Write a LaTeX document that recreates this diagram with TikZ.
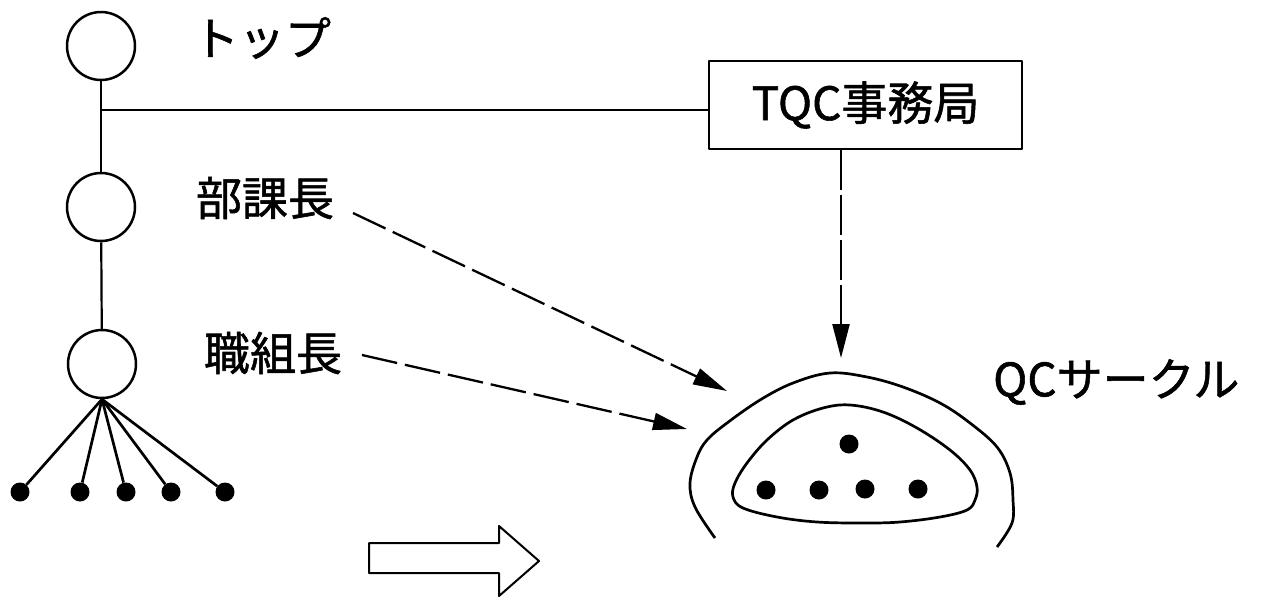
\documentclass[tikz,border=0pt]{standalone}
\usepackage{fontspec}
\newfontfamily\jpfont[BoldFont={Noto Sans CJK JP},BoldFeatures={FakeBold=1.2}]{Noto Sans CJK JP}
\usetikzlibrary{arrows.meta}
\begin{document}
\begin{tikzpicture}[x=1pt,y=-1pt,
  line join=round,
  rank/.style={circle,draw,line width=2.5pt,minimum size=68pt,inner sep=0pt},
  member/.style={circle,fill,minimum size=19pt,inner sep=0pt},
  label/.style={font=\jpfont\bfseries\fontsize{46}{50}\selectfont,inner sep=0pt},
  solidline/.style={line width=2.2pt},
  flow/.style={line width=2.3pt,dash pattern=on 36pt off 8pt,
    -{Triangle[length=34pt,width=17pt]}},
  loop/.style={line width=2.7pt}]
\useasboundingbox (0,0) rectangle (1265,598);

% hierarchy of ranks
\node[rank] (top) at (101,46) {};
\node[rank] (mid) at (101,207) {};
\node[rank] (low) at (102,364) {};
\draw[solidline] (top) -- (mid);
\draw[solidline] (mid) -- (low);

% workers under the foreman
\node[member] (w1) at (20,492) {};
\node[member] (w2) at (80,492) {};
\node[member] (w3) at (126,492) {};
\node[member] (w4) at (171,492) {};
\node[member] (w5) at (225,492) {};
\foreach \w in {w1,w2,w3,w4,w5}
  \draw[solidline,line width=2.7pt] (low.south) -- (\w);

% rank labels
\node[label] (lbtop) at (262,38) {トップ};
\node[label] (lbmgr) at (265,198) {部課長};
\node[label] (lbfor) at (273,353) {職組長};

% TQC office
\node[draw,line width=2pt,minimum width=313pt,minimum height=88pt,
      label,inner sep=0pt] (office) at (865.5,105) {TQC事務局};
\coordinate (branch) at (101,110);
\draw[solidline,line width=2pt] (branch) -- (branch -| office.west);

% QC circle
\node[label,anchor=west] (qc) at (993,382) {QCサークル};
\draw[loop] plot[smooth,tension=0.6] coordinates {
  (715,538) (695,507) (690,483) (697,457) (707,440) (727,423) (760,400)
  (793,383) (830,373) (867,377) (903,387) (940,403) (970,423) (997,447)
  (1010,473) (1013,500) (1012,523) (997,547)};
\draw[loop] plot[smooth cycle,tension=0.6] coordinates {
  (850,405) (883,412) (917,428) (950,450) (970,470) (977,487) (975,500)
  (967,510) (940,517) (900,522) (863,523) (817,522) (777,517) (743,508)
  (733,497) (735,483) (747,463) (767,440) (793,420) (823,408)};
\node[member,minimum width=17pt,minimum height=19pt] (q0) at (849,444) {};
\node[member] (q1) at (766,490) {};
\node[member] (q2) at (819,490) {};
\node[member] (q3) at (865,489) {};
\node[member] (q4) at (918,489) {};

% influence arrows
\coordinate (mgrTail) at (353,213);
\coordinate (mgrHead) at (727,391);
\coordinate (forTail) at (362,355);
\coordinate (forHead) at (687,429);
\coordinate (offHead) at (841,358);
\draw[flow] (mgrTail) -- (mgrHead);
\draw[flow] (forTail) -- (forHead);
\draw[flow,dash pattern=on 40pt off 5pt] (office.south -| offHead) -- (offHead);

% block arrow
\draw[line width=2pt] (369,543) -- (499,543) -- (499,526) -- (539,561)
  -- (499,596) -- (499,573) -- (369,573) -- cycle;
\end{tikzpicture}
\end{document}
